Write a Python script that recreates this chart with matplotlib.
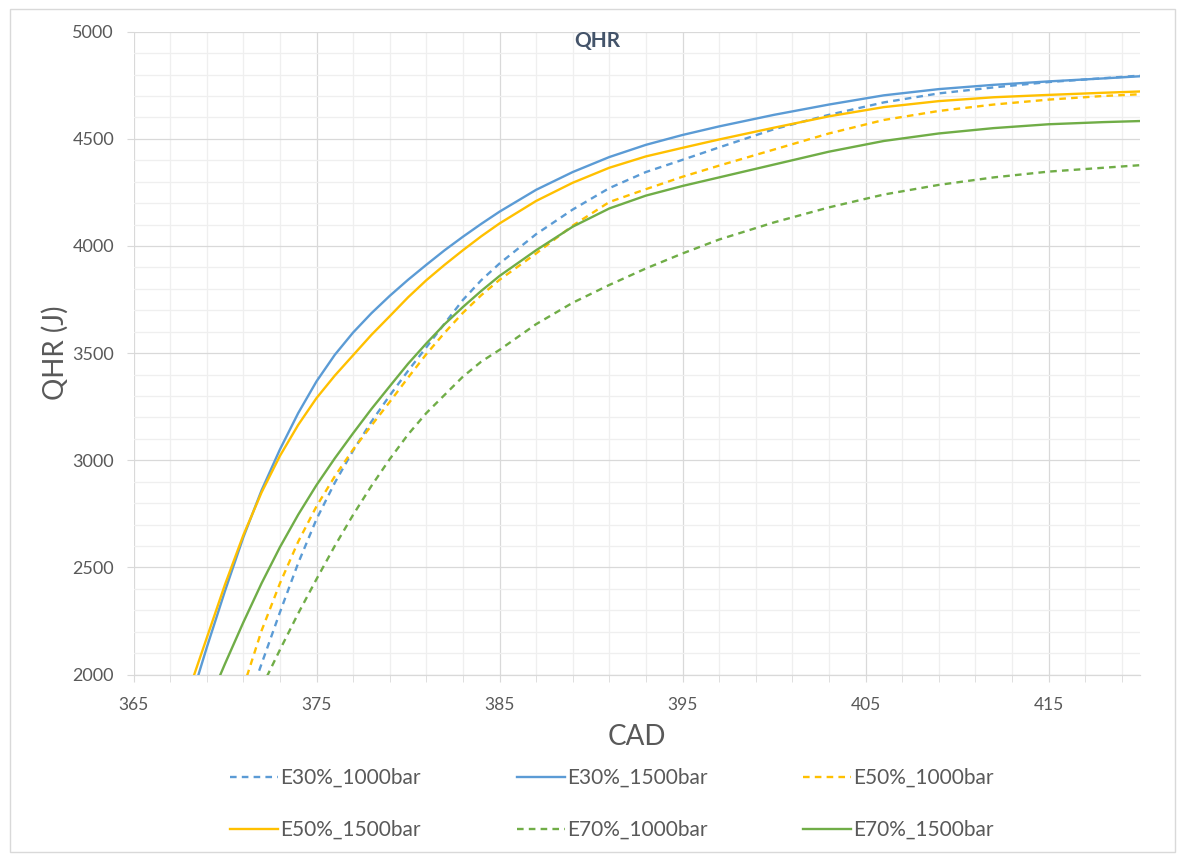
import numpy as np
import matplotlib
matplotlib.use("Agg")
import matplotlib.pyplot as plt
from matplotlib.patches import Rectangle
from matplotlib.ticker import FixedLocator

plt.rcParams['font.family'] = ['Lato', 'DejaVu Sans']

nan = np.nan
cad = [367, 368, 369, 370, 371, 372, 373, 374, 375, 376, 377, 378, 379, 380, 381,
       382, 383, 384, 385, 387, 389, 391, 393, 395, 397, 400, 403, 406, 409, 412,
       415, 418, 420]

e30_1000 = [nan, nan, nan, nan, 1810, 2050, 2290, 2520, 2725, 2895, 3045, 3180, 3302, 3417, 3527,
            3638, 3748, 3840, 3918, 4055, 4170, 4270, 4345, 4402, 4460, 4545, 4612, 4670, 4712, 4740,
            4765, 4783, 4795]
e30_1500 = [1560, 1845, 2125, 2390, 2640, 2860, 3050, 3220, 3368, 3492, 3596, 3686, 3767, 3842, 3912,
            3980, 4043, 4103, 4160, 4262, 4345, 4415, 4472, 4518, 4558, 4612, 4660, 4703, 4732, 4752,
            4768, 4782, 4792]
e50_1000 = [nan, nan, nan, nan, 1940, 2205, 2425, 2620, 2785, 2925, 3050, 3162, 3272, 3385, 3495,
            3595, 3688, 3770, 3842, 3965, 4095, 4205, 4265, 4323, 4375, 4450, 4525, 4588, 4630, 4660,
            4683, 4700, 4708]
e50_1500 = [1650, 1920, 2170, 2420, 2650, 2850, 3020, 3165, 3290, 3395, 3490, 3585, 3672, 3760, 3840,
            3912, 3980, 4045, 4105, 4210, 4295, 4365, 4418, 4458, 4497, 4552, 4605, 4648, 4676, 4694,
            4705, 4715, 4721]
e70_1000 = [nan, nan, nan, nan, nan, 1940, 2115, 2285, 2445, 2600, 2745, 2880, 3005, 3120, 3220,
            3305, 3390, 3460, 3515, 3635, 3735, 3818, 3895, 3965, 4030, 4110, 4180, 4240, 4285, 4320,
            4347, 4365, 4377]
e70_1500 = [nan, nan, 1850, 2050, 2243, 2426, 2594, 2746, 2884, 3009, 3126, 3239, 3345, 3450, 3545,
            3635, 3715, 3790, 3860, 3980, 4090, 4175, 4235, 4280, 4320, 4380, 4440, 4490, 4525, 4550,
            4568, 4578, 4583]

labels = ["E30%_1000bar", "E30%_1500bar", "E50%_1000bar",
          "E50%_1500bar", "E70%_1000bar", "E70%_1500bar"]
x_ticks = [365, 375, 385, 395, 405, 415]
y_ticks = [2000, 2500, 3000, 3500, 4000, 4500, 5000]

BLUE = "#5B9BD5"
GOLD = "#FFC000"
GREEN = "#70AD47"
TXT = "#595959"
GRID = "#D9D9D9"
MINOR = "#EFEFEF"

W, H = 1178, 856
fig = plt.figure(figsize=(W / 100, H / 100), dpi=100)
fig.patch.set_facecolor("white")

L, R, T, B = 133.5, 1140, 31.7, 674.5
ax = fig.add_axes([L / W, 1 - B / H, (R - L) / W, (B - T) / H])

dash = (0, (2.8, 2.2))
lw = 1.7
series = [(e30_1000, BLUE, dash), (e30_1500, BLUE, "-"),
          (e50_1000, GOLD, dash), (e50_1500, GOLD, "-"),
          (e70_1000, GREEN, dash), (e70_1500, GREEN, "-")]
handles = []
for (vals, col, ls), lab in zip(series, labels):
    h, = ax.plot(cad, vals, color=col, linestyle=ls, lw=lw, label=lab, zorder=3)
    handles.append(h)

ax.set_xlim(365, 420)
ax.set_ylim(2000, 5000)
ax.xaxis.set_major_locator(FixedLocator(x_ticks))
ax.xaxis.set_minor_locator(FixedLocator(list(range(367, 421, 2))))
ax.yaxis.set_major_locator(FixedLocator(y_ticks))
ax.yaxis.set_minor_locator(FixedLocator(list(range(2100, 5000, 100))))

ax.grid(which="major", color=GRID, lw=0.9, zorder=0)
ax.grid(which="minor", color=MINOR, lw=0.9, zorder=0)
ax.set_axisbelow(True)

for s in ["top", "right", "left"]:
    ax.spines[s].set_visible(False)
ax.spines["bottom"].set_color(GRID)
ax.spines["bottom"].set_linewidth(0.9)

ax.tick_params(axis="x", which="both", direction="out", length=5, color=GRID,
               labelsize=12.5, labelcolor=TXT, pad=11)
ax.tick_params(axis="y", which="major", direction="out", length=5, color=GRID,
               labelsize=13, labelcolor=TXT, pad=9)
ax.tick_params(axis="y", which="minor", length=0)

ax.set_xlabel("CAD", fontsize=20, color=TXT)
ax.xaxis.set_label_coords(0.5, -(737 - B) / (B - T))
ax.xaxis.label.set_va("center")
ax.set_ylabel("QHR (J)", fontsize=20, color=TXT)
ax.yaxis.set_label_coords(-(L - 55) / (R - L), 0.5)
ax.yaxis.label.set_va("center")

fig.text(597 / W, 1 - 41.5 / H, "QHR", ha="center", va="center",
         fontsize=15, fontweight="bold", color="#44546A")

order = [0, 3, 1, 4, 2, 5]
leg = fig.legend([handles[i] for i in order], [labels[i] for i in order],
                 ncol=3, loc="center", bbox_to_anchor=(612 / W, 1 - 804 / H),
                 frameon=False, fontsize=15, handlelength=2.3, handletextpad=0.1,
                 columnspacing=4.6, labelspacing=1.55)
for t in leg.get_texts():
    t.set_color(TXT)

fig.patches.append(Rectangle((10 / W, 1 - 852 / H), (1175 - 10) / W, (852 - 9) / H,
                             transform=fig.transFigure, fill=False,
                             edgecolor=GRID, lw=1.0))

fig.savefig("out.png", dpi=100, facecolor="white")
